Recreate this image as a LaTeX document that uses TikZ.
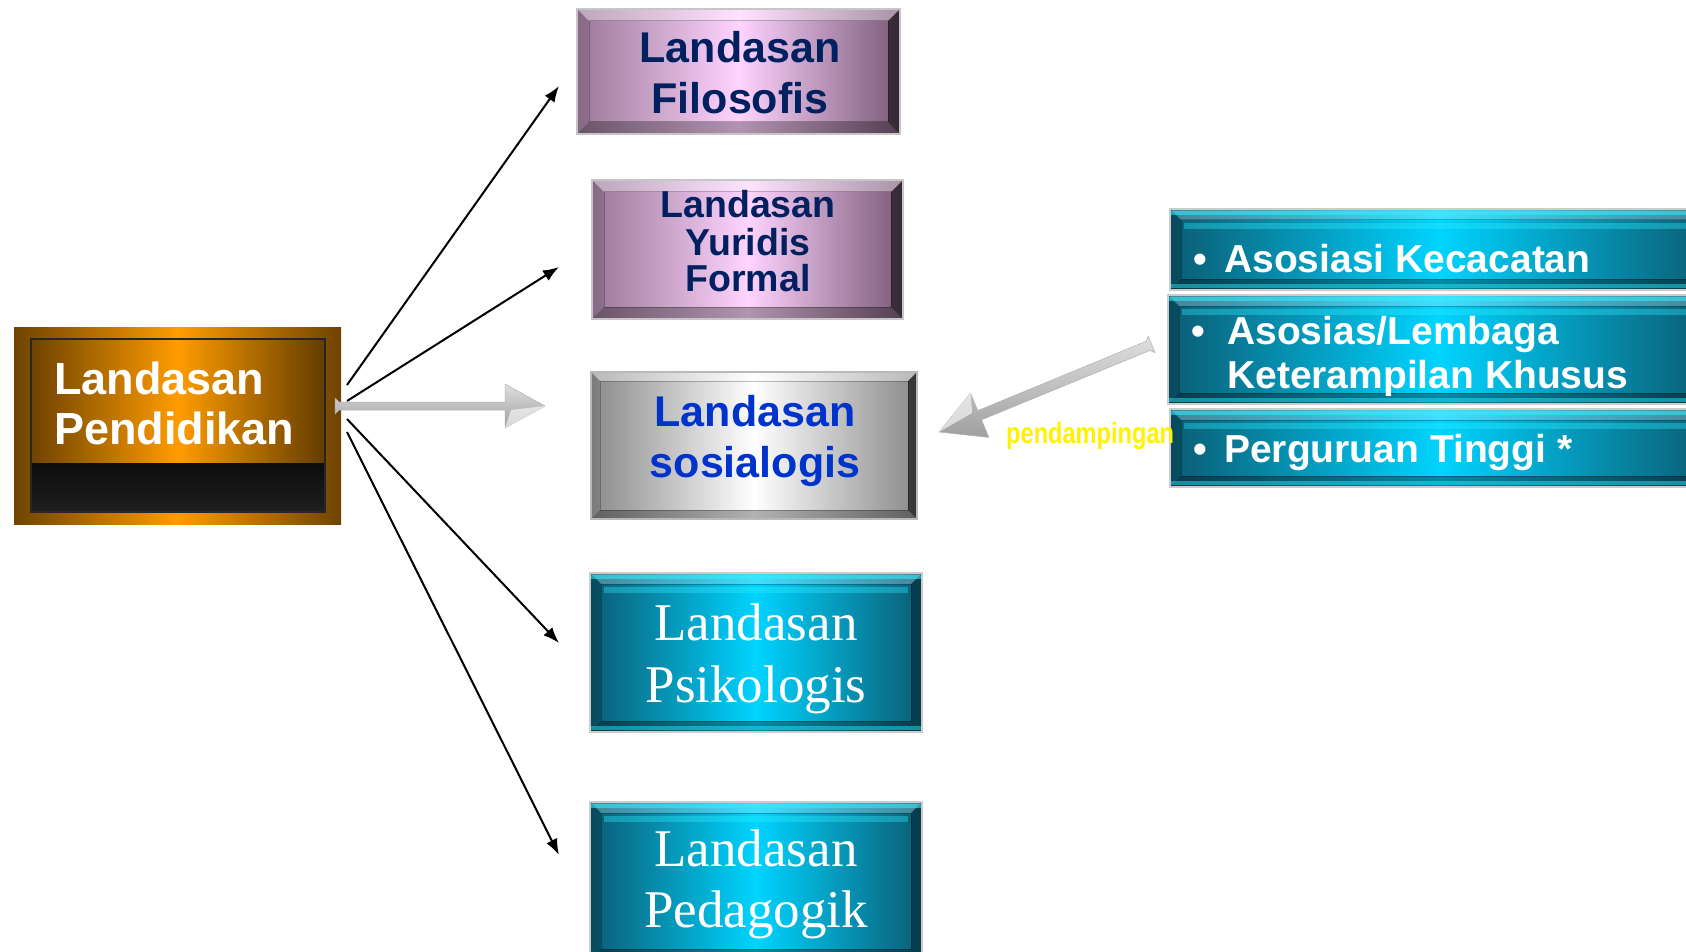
\documentclass[tikz,border=0pt]{standalone}
\usepackage{fontspec}
\setmainfont{Liberation Sans}
\newfontfamily\serifont{Liberation Serif}
\newfontfamily\narrowfont[FakeStretch=0.8]{Liberation Sans}
\usetikzlibrary{arrows.meta,calc}
\definecolor{navy}{HTML}{002060}
\definecolor{royal}{HTML}{0033CC}
\definecolor{pedge}{HTML}{9A7898}
\definecolor{pedgeR}{HTML}{7A5A78}
\definecolor{pmid}{HTML}{FFD4FF}
\definecolor{tedge}{HTML}{0B5C74}
\definecolor{tmid}{HTML}{00D4FF}
\definecolor{tglow}{HTML}{30F0FF}
\definecolor{oedge}{HTML}{6E4300}
\definecolor{omid}{HTML}{FF9C00}
\definecolor{gedge}{HTML}{8A8A8A}
\newcommand\bevelbands[5]{%
 \fill[white,opacity=#2] (path picture bounding box.north west) -- (path picture bounding box.north east) -- ([xshift=-#1pt,yshift=-#1pt]path picture bounding box.north east) -- ([xshift=#1pt,yshift=-#1pt]path picture bounding box.north west) -- cycle;
 \fill[black,opacity=#3] (path picture bounding box.south west) -- (path picture bounding box.south east) -- ([xshift=-#1pt,yshift=#1pt]path picture bounding box.south east) -- ([xshift=#1pt,yshift=#1pt]path picture bounding box.south west) -- cycle;
 \fill[black,opacity=#4] (path picture bounding box.north west) -- ([xshift=#1pt,yshift=-#1pt]path picture bounding box.north west) -- ([xshift=#1pt,yshift=#1pt]path picture bounding box.south west) -- (path picture bounding box.south west) -- cycle;
 \fill[black,opacity=#5] (path picture bounding box.north east) -- ([xshift=-#1pt,yshift=-#1pt]path picture bounding box.north east) -- ([xshift=-#1pt,yshift=#1pt]path picture bounding box.south east) -- (path picture bounding box.south east) -- cycle;
 \draw[black,opacity=.25,line width=1pt] ([xshift=#1pt,yshift=-#1pt]path picture bounding box.north west) rectangle ([xshift=-#1pt,yshift=#1pt]path picture bounding box.south east);
}
\newcommand\tealglow{%
 \fill[tglow,opacity=.55] ([yshift=-2pt]path picture bounding box.north west) rectangle ([yshift=-6pt]path picture bounding box.north east);
 \fill[tglow,opacity=.35] ([xshift=14pt,yshift=-14pt]path picture bounding box.north west) rectangle ([xshift=-14pt,yshift=-20pt]path picture bounding box.north east);
 \fill[tglow,opacity=.45] ([yshift=2pt]path picture bounding box.south west) rectangle ([yshift=6pt]path picture bounding box.south east);
}
\newcommand\grayarrow[6]{% tip, angle, length, head length, head half width, shaft half width
 \begin{scope}[shift={(#1)},rotate=#2]
  \shade[top color=gray!25,bottom color=gray!75,draw=gray!60,line width=.5pt]
   (0,0) -- (#4,-#5) -- (#4,-#6) -- (#3,-#6) -- (#3+4,-#6-4) -- (#3+4,#6+4) -- (#3,#6) -- (#4,#6) -- (#4,#5) -- cycle;
  \fill[white,opacity=.6] (0,0) -- (#4,-#5) -- (#4-6,-#6) -- cycle;
 \end{scope}
}
\tikzset{
 boxbase/.style={rectangle,inner sep=0pt,outer sep=0pt},
 purplebox/.style={boxbase,left color=pedge,right color=pedgeR,middle color=pmid,draw=gray!45,line width=2.5pt,
   path picture={\bevelbands{12}{0.35}{0.3}{0.12}{0.55}}},
 graybox/.style={boxbase,left color=gedge,right color=gedge,middle color=white,draw=gray!55,line width=2.5pt,
   path picture={\bevelbands{9}{0.4}{0.3}{0.1}{0.6}}},
 tealbox/.style={boxbase,left color=tedge,right color=tedge,middle color=tmid,draw=gray!40,line width=2.5pt,
   path picture={\bevelbands{11}{0.25}{0.35}{0.2}{0.35}\tealglow}},
 orangebox/.style={boxbase,left color=oedge,right color=oedge,middle color=omid},
 ttl/.style={inner sep=0pt,anchor=base,font=\fontsize{43}{50}\selectfont\bfseries,text=navy},
 ttlsm/.style={ttl,font=\fontsize{37.5}{44}\selectfont\bfseries},
 ttlblue/.style={ttl,text=royal},
 serifttl/.style={inner sep=0pt,anchor=base,font=\fontsize{53}{60}\serifont\selectfont,text=white},
 whitettl/.style={inner sep=0pt,anchor=base west,font=\fontsize{45}{50}\selectfont\bfseries,text=white},
 rtext/.style={inner sep=0pt,anchor=base west,font=\fontsize{39}{46}\selectfont\bfseries,text=white},
 rbullet/.style={inner sep=0pt,anchor=base,font=\fontsize{39}{46}\selectfont\bfseries,text=white},
 blackarrow/.style={draw=black,line width=2pt,-{Latex[length=16pt,width=12pt]}},
}
\begin{document}
\begin{tikzpicture}[x=1pt,y=-1pt]
\useasboundingbox (0,0) rectangle (1686,952);
% main box
\node[orangebox,minimum width=327pt,minimum height=197pt] (main) at (177.5,425.5) {};
\shade[left color=oedge,right color=oedge!90!black,middle color=omid] (31,339) rectangle (325,463);
\shade[top color=black!95,bottom color=black!88] (31,463) rectangle (325,512);
\draw[black!85,line width=1.5pt] (31,339) rectangle (325,512);
\node[whitettl] (mainA) at (54,394) {Landasan};
\node[whitettl] (mainB) at (54,444) {Pendidikan};
% purple boxes
\node[purplebox,minimum width=323pt,minimum height=125pt] (filo) at (738.5,71.5) {};
\node[ttl] (filoA) at (740,63) {Landasan};
\node[ttl] (filoB) at (740,114) {Filosofis};
\node[purplebox,minimum width=311pt,minimum height=139pt] (yuri) at (747.5,249.5) {};
\node[ttlsm] (yuriA) at (748,218) {Landasan};
\node[ttlsm] (yuriB) at (748,255) {Yuridis};
\node[ttlsm] (yuriC) at (748,291) {Formal};
% gray box
\node[graybox,minimum width=326pt,minimum height=147pt] (sosi) at (754,445.5) {};
\node[ttlblue] (sosiA) at (755,426) {Landasan};
\node[ttlblue] (sosiB) at (755,477) {sosialogis};
% teal boxes
\node[tealbox,minimum width=332pt,minimum height=159pt] (psik) at (756,652.5) {};
\node[serifttl] (psikA) at (756,640) {Landasan};
\node[serifttl] (psikB) at (756,702) {Psikologis};
\node[tealbox,minimum width=332pt,minimum height=158pt] (peda) at (756,881) {};
\node[serifttl] (pedaA) at (756,866) {Landasan};
\node[serifttl] (pedaB) at (756,927) {Pedagogik};
% right boxes
\node[tealbox,minimum width=540pt,minimum height=81pt] (r1) at (1440,249.5) {};
\node[rbullet] (r1b) at (1200,272) {•};
\node[rtext] (r1t) at (1224,272) {Asosiasi Kecacatan};
\node[tealbox,minimum width=540pt,minimum height=109pt] (r2) at (1438,349.5) {};
\node[rbullet] (r2b) at (1198,344) {•};
\node[rtext] (r2t) at (1227,344) {Asosias/Lembaga};
\node[rtext] (r2u) at (1227,388) {Keterampilan Khusus};
\node[tealbox,minimum width=540pt,minimum height=78pt] (r3) at (1440,448) {};
\node[rbullet] (r3b) at (1200,462) {•};
\node[rtext] (r3t) at (1224,462) {Perguruan Tinggi *};
% label
\node[inner sep=0pt,anchor=base west,font=\fontsize{29.5}{34}\narrowfont\bfseries,text=yellow] (pend) at (1006,443) {pendampingan};
% connectors
\coordinate (s1) at (347,385); \coordinate (e1) at (559,86);
\coordinate (s2) at (347,401); \coordinate (e2) at (559,267);
\coordinate (s4) at (347,419); \coordinate (e4) at (559,643);
\coordinate (s5) at (347,432); \coordinate (e5) at (559,855);
\draw[blackarrow] (s1) -- (e1);
\draw[blackarrow] (s2) -- (e2);
\draw[blackarrow] (s4) -- (e4);
\draw[blackarrow] (s5) -- (e5);
\coordinate (g1e) at (545,406);
\coordinate (g2e) at (939,432);
\grayarrow{g1e}{180}{206}{40}{22}{4}
\grayarrow{g2e}{22.4}{226}{44}{24}{5}
\end{tikzpicture}
\end{document}
